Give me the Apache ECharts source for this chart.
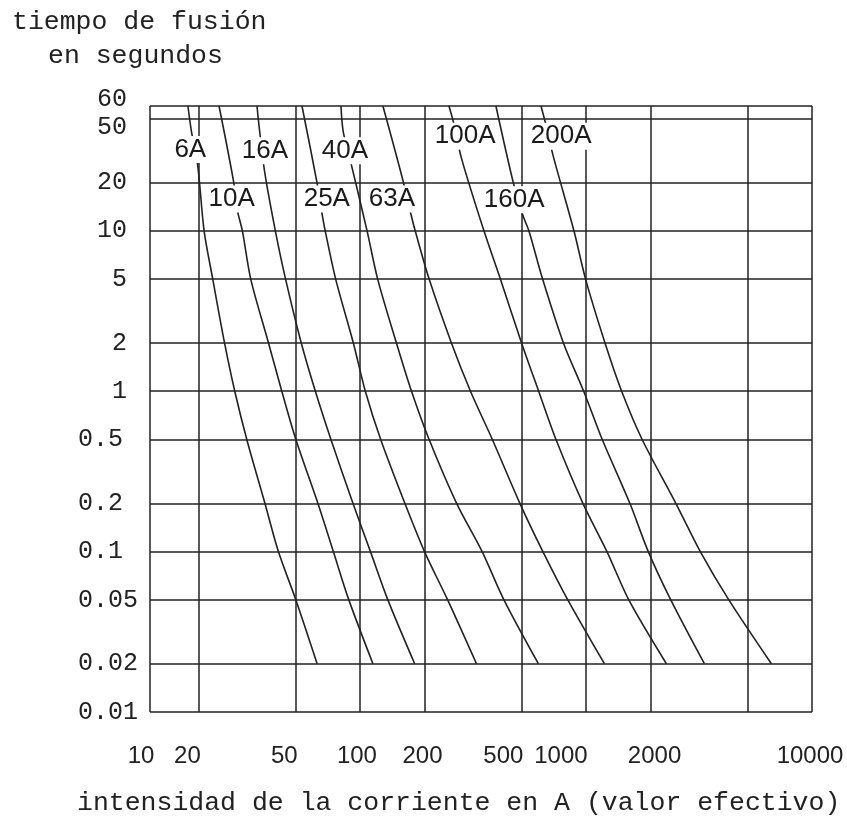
<!DOCTYPE html>
<html>
<head>
<meta charset="utf-8">
<script src="https://cdn.jsdelivr.net/npm/echarts@6/dist/echarts.min.js"></script>
<style>
html,body{margin:0;padding:0;background:#ffffff;}
#chart{width:847px;height:820px;}
</style>
</head>
<body>
<div id="chart"></div>
<script>
// ---- axis ticks ----
const timeTicks = [0.01, 0.02, 0.05, 0.1, 0.2, 0.5, 1, 2, 5, 10, 20, 50, 60];
const currentTicks = [10, 20, 50, 100, 200, 500, 1000, 2000, 5000, 10000];
const currentLabels = [10, 20, 50, 100, 200, 500, 1000, 2000, 10000];
// the original chart's own (non-uniform) current scale, in grid steps
const currentScaleSteps = [0, 1.5, 4.5, 6.5, 8.5, 11.5, 13.5, 15.5, 18.5, 20.5];

// ---- fuse curves: melting time (s) vs current (A) ----
const fuseNames = ['6A', '10A', '16A', '25A', '40A', '63A', '100A', '160A', '200A'];
const secs6A   = [60, 41.6, 25.5, 10, 5, 2, 1, 0.5, 0.2, 0.1, 0.05, 0.02];
const amps6A   = [17.2, 18.1, 19.8, 21.1, 22.9, 25.6, 28.2, 31.6, 37.5, 42.6, 50.3, 63.2];
const secs10A  = [60, 20.2, 13.7, 10, 5, 2, 1, 0.5, 0.2, 0.1, 0.05, 0.02];
const amps10A  = [24.3, 27.9, 28.8, 30.3, 32.8, 38.8, 44.0, 50.3, 63.7, 75.2, 88.8, 115];
const secs16A  = [60, 44.7, 23.4, 10, 5, 2, 1, 0.5, 0.2, 0.1, 0.05, 0.02];
const amps16A  = [34.8, 35.5, 37.4, 41.4, 45.6, 53.3, 62.0, 73.3, 92.8, 112, 135, 180];
const secs25A  = [60, 20.2, 12.8, 10, 5, 2, 1, 0.5, 0.2, 0.1, 0.05, 0.02];
const amps25A  = [53.7, 63.0, 66.6, 68.9, 77.1, 93.2, 106, 125, 162, 200, 249, 327];
const secs40A  = [60, 41.6, 27.0, 10, 5, 2, 1, 0.5, 0.2, 0.1, 0.05, 0.02];
const amps40A  = [81.6, 83.6, 90.5, 108, 121, 148, 174, 209, 271, 345, 424, 600];
const secs63A  = [60, 21.8, 11.9, 10, 5, 2, 1, 0.5, 0.2, 0.1, 0.05, 0.02];
const amps63A  = [128, 157, 175, 181, 209, 258, 309, 380, 493, 630, 823, 1219];
const secs100A = [60, 48.7, 28.2, 10, 5, 2, 1, 0.5, 0.2, 0.1, 0.05, 0.02];
const amps100A = [252, 262, 284, 351, 410, 501, 602, 725, 968, 1253, 1584, 2324];
const secs160A = [60, 19.5, 12.4, 10, 5, 2, 1, 0.5, 0.2, 0.1, 0.05, 0.02];
const amps160A = [393, 465, 509, 542, 628, 785, 976, 1191, 1602, 1952, 2422, 3328];
const secs200A = [60, 48.0, 29.0, 10, 5, 2, 1, 0.5, 0.2, 0.1, 0.05, 0.02];
const amps200A = [617, 645, 705, 879, 996, 1227, 1467, 1828, 2540, 3202, 4194, 6467];

// where each curve's name label sits (current A, time s)
const labelAmps = [17.8, 27.4, 37.5, 70.1, 85.1, 141, 294, 467, 767];
const labelSecs = [32.1, 15.8, 31.6, 15.8, 31.6, 15.8, 38.9, 15.6, 38.9];

// ---- styles ----
const INK = '#222222';
const xLabelShift = [-9, -11, -11, -3, -2, -18, -25, 4, -2];

// current -> position on the chart's own piecewise-logarithmic current scale
function currentToScale(a) {
  const T = currentTicks, U = currentScaleSteps;
  let i = 0;
  while (i < T.length - 2 && a > T[i + 1]) i++;
  const f = Math.log(a / T[i]) / Math.log(T[i + 1] / T[i]);
  return U[i] + f * (U[i + 1] - U[i]);
}
function timeToScale(t) { return Math.log10(t); }

const curveAmps = [amps6A, amps10A, amps16A, amps25A, amps40A, amps63A, amps100A, amps160A, amps200A];
const curveSecs = [secs6A, secs10A, secs16A, secs25A, secs40A, secs63A, secs100A, secs160A, secs200A];

const curveSeries = fuseNames.map((name, k) => ({
  name: name,
  type: 'line',
  data: curveAmps[k].map((a, i) => [currentToScale(a), timeToScale(curveSecs[k][i])]),
  showSymbol: false,
  symbol: 'none',
  smooth: 0.3,
  z: 3,
  lineStyle: { color: INK, width: 1.6 },
  silent: true
}));

const labelSeries = {
  type: 'scatter',
  z: 10,
  symbolSize: 1,
  itemStyle: { color: 'rgba(0,0,0,0)', opacity: 1 },
  data: fuseNames.map((n, k) => ({ name: n, value: [currentToScale(labelAmps[k]), timeToScale(labelSecs[k])] })),
  label: {
    show: true,
    position: 'inside',
    formatter: p => p.name,
    fontFamily: 'Liberation Sans',
    fontSize: 26,
    color: '#1a1a1a',
    opacity: 1,
    backgroundColor: '#ffffff',
    padding: [1, 2, 0, 2]
  },
  silent: true
};

const xRich = {};
xLabelShift.forEach((d, i) => {
  xRich['x' + i] = { padding: d < 0 ? [0, -2 * d, 0, 0] : [0, 0, 0, 2 * d] };
});

const chart = echarts.init(document.getElementById('chart'), null, { renderer: 'canvas' });
chart.setOption({
  animation: false,
  backgroundColor: '#ffffff',
  grid: { left: 150, right: 35, top: 106, bottom: 108, containLabel: false, outerBoundsMode: 'none' },
  xAxis: {
    type: 'value',
    min: 0,
    max: currentScaleSteps[currentScaleSteps.length - 1],
    axisLine: { show: false },
    axisTick: { show: false, customValues: currentTicks.map(currentToScale) },
    splitLine: { show: true, lineStyle: { color: INK, width: 1.5 } },
    axisLabel: {
      customValues: currentLabels.map(currentToScale),
      margin: 32,
      fontFamily: 'Liberation Sans',
      fontSize: 24,
      color: INK,
      rich: xRich,
      formatter: function (v) {
        let best = 0, bd = Infinity;
        currentLabels.forEach((c, i) => { const d = Math.abs(currentToScale(c) - v); if (d < bd) { bd = d; best = i; } });
        return '{x' + best + '|' + currentLabels[best] + '}';
      }
    }
  },
  yAxis: {
    type: 'value',
    min: timeToScale(timeTicks[0]),
    max: timeToScale(timeTicks[timeTicks.length - 1]),
    axisLine: { show: false },
    axisTick: { show: false, customValues: timeTicks.map(timeToScale) },
    splitLine: { show: true, lineStyle: { color: INK, width: 1.5 } },
    axisLabel: {
      customValues: timeTicks.map(timeToScale),
      margin: 72,
      align: 'left',
      fontFamily: 'Liberation Mono',
      fontSize: 25,
      color: INK,
      rich: {
        r: { width: 49, align: 'right' },
        rUp: { width: 49, align: 'right', padding: [0, 0, 14, 0] },
        rDown: { width: 49, align: 'right', padding: [18, 0, 0, 0] },
        d: {}
      },
      formatter: function (v) {
        let best = 0, bd = Infinity;
        timeTicks.forEach((t, i) => { const d = Math.abs(timeToScale(t) - v); if (d < bd) { bd = d; best = i; } });
        const t = timeTicks[best];
        if (t < 1) return '{d|' + t + '}';
        if (t === 60) return '{rUp|' + t + '}';
        if (t === 50) return '{rDown|' + t + '}';
        return '{r|' + t + '}';
      }
    }
  },
  graphic: [
    { type: 'text', left: 12, top: 8, style: { text: 'tiempo de fusión', font: '26.5px "Liberation Mono"', fill: INK } },
    { type: 'text', left: 48, top: 42, style: { text: 'en segundos', font: '26.5px "Liberation Mono"', fill: INK } },
    { type: 'text', left: 77, top: 789, style: { text: 'intensidad de la corriente en A (valor efectivo)', font: '26.5px "Liberation Mono"', fill: INK } }
  ],
  series: curveSeries.concat([labelSeries])
});
</script>
</body>
</html>
